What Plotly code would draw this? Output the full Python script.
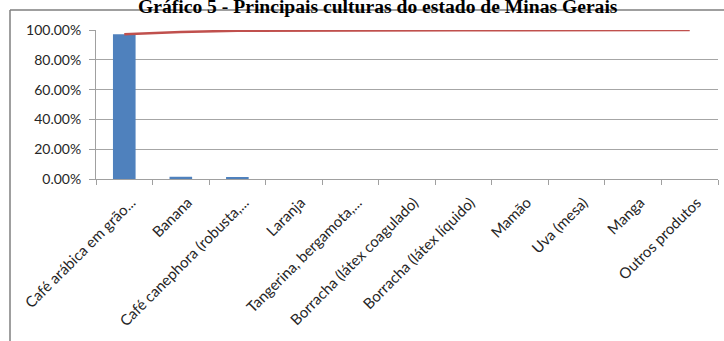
import plotly.graph_objects as go

# Principais culturas de Minas Gerais - participação e acumulado
culturas = [
    "Café arábica em grão...",
    "Banana",
    "Café canephora (robusta,...",
    "Laranja",
    "Tangerina, bergamota,...",
    "Borracha (látex coagulado)",
    "Borracha (látex líquido)",
    "Mamão",
    "Uva (mesa)",
    "Manga",
    "Outros produtos",
]
participacao = [0.972, 0.015, 0.008, 0.0, 0.0, 0.0, 0.0, 0.0, 0.0, 0.0, 0.0]
acumulado = [0.972, 0.987, 0.995, 0.997, 0.998, 0.998, 0.999, 0.999, 0.999, 1.0, 1.0]
y_ticks = [0.0, 0.2, 0.4, 0.6, 0.8, 1.0]

W, H = 724, 341
ML, MR, MT, MB = 96, 6, 30, 162
pw, ph = W - ML - MR, H - MT - MB

fig = go.Figure()
fig.add_trace(go.Bar(
    x=culturas, y=participacao,
    marker=dict(color="#4f81bd", line=dict(width=0)),
    width=0.4,
))
fig.add_trace(go.Scatter(
    x=culturas, y=acumulado, mode="lines",
    line=dict(color="#c0504d", width=2.5),
    cliponaxis=False,
))

# outer chart frame (left and top edges visible)
fx0 = (10 - ML) / pw
fy1 = 1 + (MT - 10) / ph
fig.add_shape(type="line", xref="paper", yref="paper",
              x0=fx0, x1=1 + (MR + 5) / pw, y0=fy1, y1=fy1,
              line=dict(color="#7f7f7f", width=1.5))
fig.add_shape(type="line", xref="paper", yref="paper",
              x0=fx0, x1=fx0, y0=fy1, y1=-(MB + 5) / ph,
              line=dict(color="#7f7f7f", width=1.5))

# chart title, partly above the page edge
fig.add_annotation(
    text="<b>Gráfico 5 - Principais culturas do estado de Minas Gerais</b>",
    xref="paper", yref="paper",
    x=(378 - ML) / pw, y=1 + (MT - 6) / ph,
    xanchor="center", yanchor="middle", showarrow=False,
    font=dict(family="Liberation Serif", size=19.6, color="black"),
)

fig.update_layout(
    width=W, height=H,
    margin=dict(l=ML, r=MR, t=MT, b=MB, pad=0),
    paper_bgcolor="white", plot_bgcolor="white",
    showlegend=False,
    font=dict(family="Lato", size=14, color="#262626"),
)
fig.update_xaxes(
    type="category",
    showgrid=False,
    showline=True, linecolor="#a0a0a0", linewidth=1,
    ticks="outside", tickson="boundaries", ticklen=5, tickcolor="#a0a0a0",
    tickangle=-45,
    ticklabelshift=7, ticklabelstandoff=8,
    tickfont=dict(family="Lato", size=15, color="#262626"),
)
fig.update_yaxes(
    range=[0, 1.0],
    tickvals=y_ticks, tickformat=".2%",
    showgrid=True, gridcolor="#a6a6a6", gridwidth=1,
    showline=True, linecolor="#a0a0a0", linewidth=1,
    ticks="outside", ticklen=6, tickcolor="#a0a0a0",
    ticklabelstandoff=5,
    zeroline=False,
    tickfont=dict(family="Lato", size=14, color="#262626"),
)

fig.write_html("out.html")
